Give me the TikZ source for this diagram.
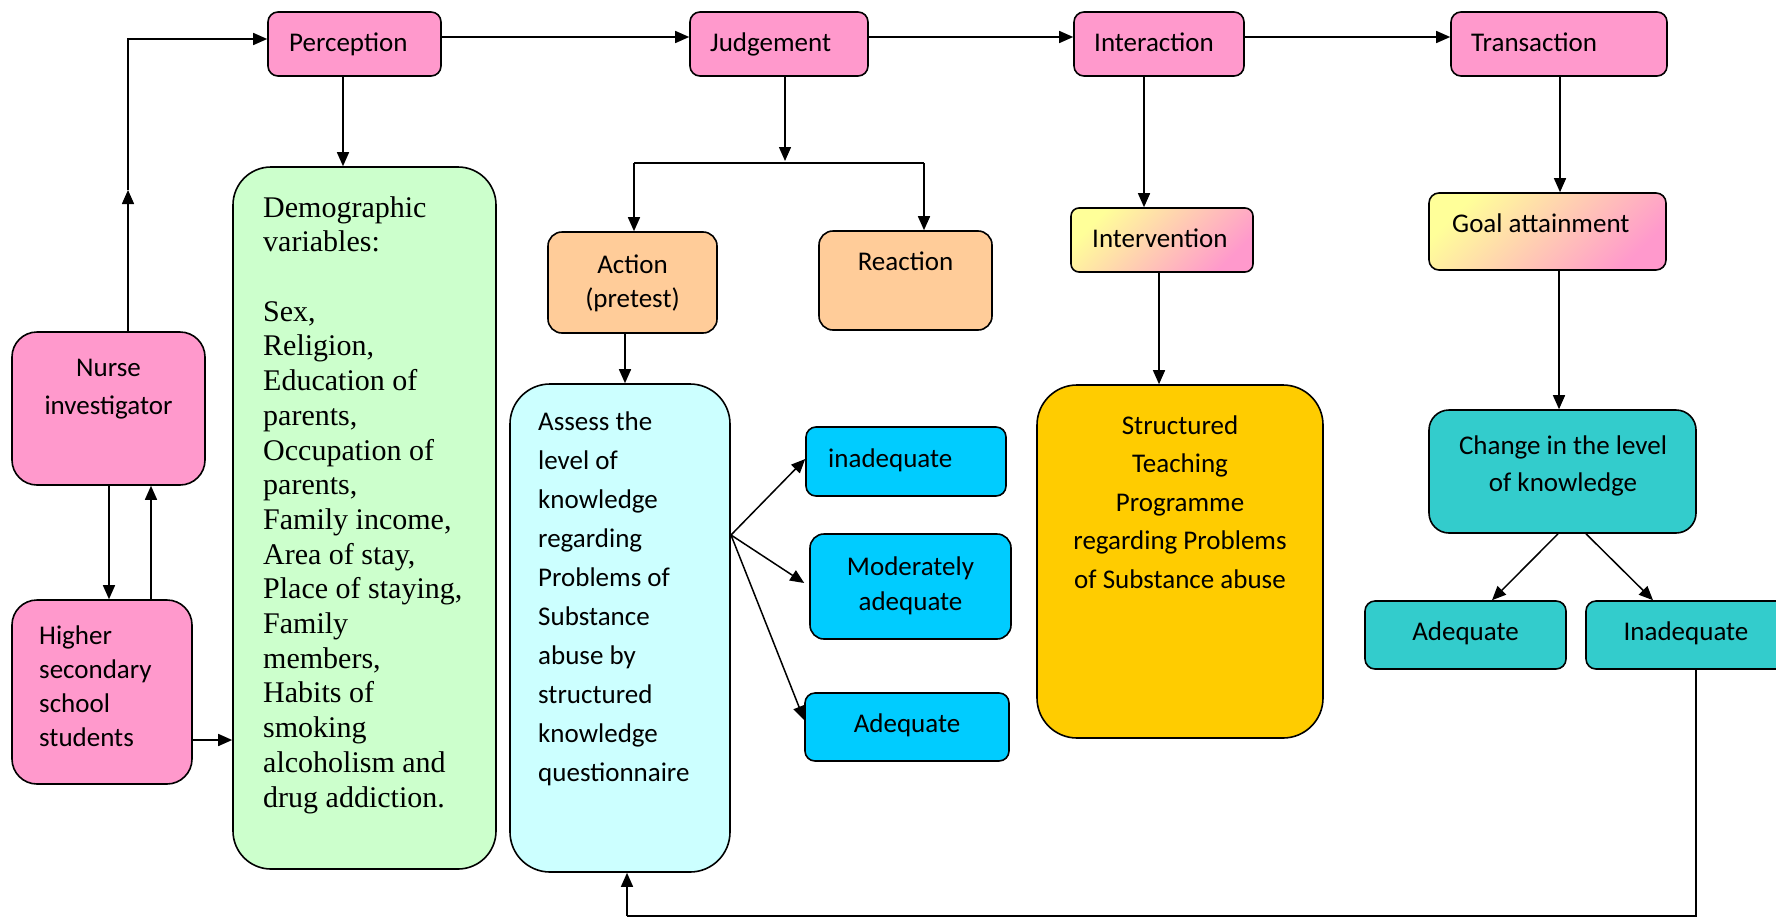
\documentclass[tikz,border=0pt]{standalone}
\usepackage{fontspec}
\setmainfont{Carlito}
\newfontfamily\tnr{Liberation Serif}
\usetikzlibrary{arrows.meta,fit}
\definecolor{pinkf}{HTML}{FF99CC}
\definecolor{greenf}{HTML}{CCFFCC}
\definecolor{cyanf}{HTML}{CCFFFF}
\definecolor{orangef}{HTML}{FFCC99}
\definecolor{bluef}{HTML}{00CCFF}
\definecolor{tealf}{HTML}{33CCCC}
\definecolor{goldf}{HTML}{FFCC00}
\definecolor{gyel}{HTML}{FFFF99}
\begin{document}
\begin{tikzpicture}[x=1pt,y=-1pt,
  bx/.style={draw=black, line width=1.6pt, inner sep=0pt, rounded corners=#1},
  bx/.default=10pt,
  cal/.style={font=\fontsize{27}{33}\selectfont, inner sep=0pt},
  tms/.style={font=\tnr\fontsize{30}{34.7}\selectfont, inner sep=0pt, align=left},
  arr/.style={line width=1.5pt, -{Triangle[length=14pt,width=12pt]}},
  ln/.style={line width=1.5pt},
  grad/.style={top color=gyel, bottom color=pinkf, shading angle=45}
]
\useasboundingbox (0,0) rectangle (1776,918);
\fill[white] (0,0) rectangle (1776,918);
\clip (0,0) rectangle (1776,918);

% top row
\node[bx, fill=pinkf, fit={(268,12) (441,76)}] (perc) {};
\node[bx, fill=pinkf, fit={(690,12) (868,76)}] (judg) {};
\node[bx, fill=pinkf, fit={(1074,12) (1244,76)}] (inter) {};
\node[bx, fill=pinkf, fit={(1451,12) (1667,76)}] (trans) {};
\node[cal, anchor=base west] (tperc) at (289,51) {Perception};
\node[cal, anchor=base west] (tjudg) at (710,51) {Judgement};
\node[cal, anchor=base west] (tinter) at (1094,51) {Interaction};
\node[cal, anchor=base west] (ttrans) at (1471,51) {Transaction};

% left column
\node[bx=25pt, fill=pinkf, fit={(12,332) (205,485)}] (nurse) {};
\node[cal, font=\fontsize{27}{38}\selectfont, align=center, anchor=base] (tnurse) at (108.5,414) {Nurse\\investigator};
\node[bx=25pt, fill=pinkf, fit={(12,600) (192,784)}] (higher) {};
\node[cal, font=\fontsize{27}{33.7}\selectfont, align=left, anchor=base west] (thigher) at (39,746) {Higher\\secondary\\school\\students};

% demographic
\node[bx=38pt, fill=greenf, fit={(233,167) (496,869)}] (demo) {};
\node[tms, anchor=base west] (tdemo) at (263,807) {Demographic\\variables:\\[34.7pt]Sex,\\Religion,\\Education of\\parents,\\Occupation of\\parents,\\Family income,\\Area of stay,\\Place of staying,\\Family\\members,\\Habits of\\smoking\\alcoholism and\\drug addiction.};

% judgement branch
\node[bx=14pt, fill=orangef, fit={(548,232) (717,333)}] (act) {};
\node[cal, font=\fontsize{27}{34}\selectfont, align=center, anchor=base] (tact) at (632.5,307) {Action\\(pretest)};
\node[bx=14pt, fill=orangef, fit={(819,231) (992,330)}] (react) {};
\node[cal, anchor=base] (treact) at (905.5,270) {Reaction};

\node[bx=40pt, fill=cyanf, fit={(510,384) (730,872)}] (assess) {};
\node[cal, font=\fontsize{27}{39}\selectfont, align=left, anchor=base west] (tassess) at (538,781) {Assess the\\level of\\knowledge\\regarding\\Problems of\\Substance\\abuse by\\structured\\knowledge\\questionnaire};

\node[bx, fill=bluef, fit={(806,427) (1006,496)}] (inad) {};
\node[cal, anchor=base west] (tinad) at (828,467) {inadequate};
\node[bx=14pt, fill=bluef, fit={(810,534) (1011,639)}] (mod) {};
\node[cal, font=\fontsize{27}{35}\selectfont, align=center, anchor=base] (tmod) at (910.5,610) {Moderately\\adequate};
\node[bx, fill=bluef, fit={(805,693) (1009,761)}] (adq) {};
\node[cal, anchor=base] (tadq) at (907,732) {Adequate};

% interaction branch
\node[bx=8pt, grad, draw=black, fit={(1071,208) (1253,272)}] (intv) {};
\node[cal, anchor=base west] (tintv) at (1092,247) {Intervention};
\node[bx=40pt, fill=goldf, fit={(1037,385) (1323,738)}] (stp) {};
\node[cal, font=\fontsize{27}{38.5}\selectfont, align=center, anchor=base] (tstp) at (1180,588) {Structured\\Teaching\\Programme\\regarding Problems\\of Substance abuse};

% transaction branch
\node[bx, grad, draw=black, fit={(1429,193) (1666,270)}] (goal) {};
\node[cal, anchor=base west] (tgoal) at (1452,232) {Goal attainment};
\node[bx=20pt, fill=tealf, fit={(1429,410) (1696,533)}] (chg) {};
\node[cal, font=\fontsize{27}{37}\selectfont, align=center, anchor=base] (tchg) at (1563,491) {Change in the level\\of knowledge};
\node[bx, fill=tealf, fit={(1365,601) (1566,669)}] (tadq2) {};
\node[cal, anchor=base] (ttadq2) at (1465.5,640) {Adequate};
\node[bx, fill=tealf, fit={(1586,601) (1790,669)}] (tinad2) {};
\node[cal, anchor=base] (ttinad2) at (1686,640) {Inadequate};

% coordinates
\coordinate (nmid) at (128,190);
\coordinate (jt) at (785,161);
\coordinate (ja) at (634,163);
\coordinate (jr) at (924,163);
\coordinate (bl) at (1696,916);
\coordinate (br) at (627,916);
\coordinate (fan) at (731,535);

% connectors
\draw[arr] (nurse.north -| nmid) -- (nmid);
\draw[arr] (nmid) |- (perc.west |- 0,39);
\draw[arr] (perc.east |- 0,37) -- (judg.west |- 0,37);
\draw[arr] (judg.east |- 0,37) -- (inter.west |- 0,37);
\draw[arr] (inter.east |- 0,37) -- (trans.west |- 0,37);
\draw[arr] (perc.south -| 343,0) -- (demo.north -| 343,0);
\draw[arr] (nurse.south -| 109,0) -- (higher.north -| 109,0);
\draw[arr] (higher.north -| 151,0) -- (nurse.south -| 151,0);
\draw[arr] (higher.east |- 0,740) -- (demo.west |- 0,740);

\draw[arr] (judg.south -| jt) -- (jt);
\draw[ln] (ja) -- (jr);
\draw[arr] (ja) -- (act.north -| ja);
\draw[arr] (jr) -- (react.north -| jr);
\draw[arr] (act.south -| 625,0) -- (assess.north -| 625,0);

\draw[arr] (fan) -- (inad.west |- 0,459);
\draw[arr] (fan) -- ([xshift=-5pt]mod.west |- 0,583);
\draw[arr] (fan) -- (adq.west |- 0,720);

\draw[arr] (inter.south -| 1144,0) -- (intv.north -| 1144,0);
\draw[arr] (intv.south -| 1159,0) -- (stp.north -| 1159,0);

\draw[arr] (trans.south -| 1560,0) -- (goal.north -| 1560,0);
\draw[arr] (goal.south -| 1559,0) -- (chg.north -| 1559,0);
\draw[arr] (chg.south -| 1558,0) -- (tadq2.north -| 1492,0);
\draw[arr] (chg.south -| 1586,0) -- (tinad2.north -| 1653,0);

\draw[ln] (tinad2.south -| bl) -- (bl) -- (br);
\draw[arr] (br) -- (assess.south -| br);
\end{tikzpicture}
\end{document}
